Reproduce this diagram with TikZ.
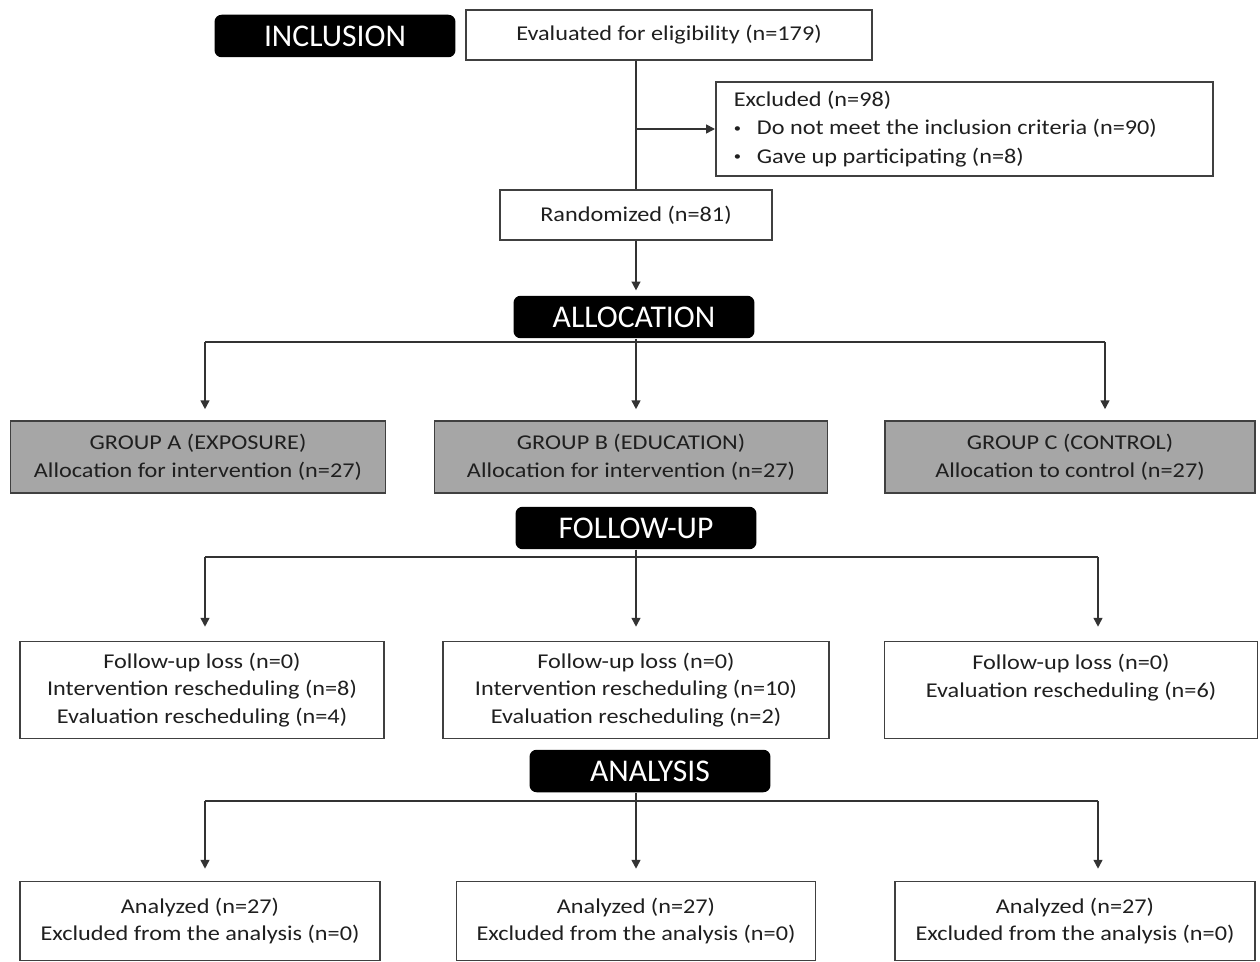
\documentclass[tikz,border=0pt]{standalone}
\usepackage{fontspec}
\setmainfont{Carlito}[FakeStretch=1.15]
\newfontfamily\phasefont{Carlito}
\usetikzlibrary{arrows.meta}

\newcommand{\smallbullet}{\raisebox{0.2ex}{\scalebox{0.6}{\textbullet}}}

\tikzset{
  phase/.style={fill=black, rounded corners=4pt, text=white, font=\phasefont\fontsize{18}{20}\selectfont, minimum width=4.82cm, minimum height=0.85cm, inner sep=0pt},
  stepbox/.style={draw=black!75, line width=0.9pt, fill=white, align=center, text=black!88, font=\fontsize{12}{15.8}\selectfont, inner sep=0pt},
  groupbox/.style={stepbox, fill=black!35},
  link/.style={draw=black!80, line width=0.9pt},
  arr/.style={link, -{Triangle[length=5pt, width=5pt]}}
}

\begin{document}
\begin{tikzpicture}[x=0.02cm, y=-0.02cm]
  \useasboundingbox (0,0) rectangle (1260,962);
  % inclusion
  \node[phase] (inclusion) at (335,36) {INCLUSION};
  \node[stepbox, minimum width=8.12cm, minimum height=1cm] (eval) at (669,35) {Evaluated for eligibility (n=179)};
  \node[stepbox, anchor=west, align=flush left, minimum height=1.88cm, text width=9.22cm, inner xsep=0.36cm, font=\fontsize{12}{16}\selectfont] (excl) at (715,129) {Excluded (n=98)\\
    \smallbullet\hspace{0.75em}Do not meet the inclusion criteria (n=90)\\
    \smallbullet\hspace{0.75em}Gave up participating (n=8)};
  \node[stepbox, minimum width=5.44cm, minimum height=1cm] (rand) at (636,215) {Randomized (n=81)};
  \coordinate (split) at (636,129);
  \draw[link] (eval.south -| split) -- (rand.north);
  \draw[arr] (split) -- (excl.west);
  % allocation
  \node[phase] (alloc) at (634,317) {ALLOCATION};
  \draw[arr, shorten >=0.1cm] (rand.south) -- (rand.south |- alloc.north);
  \node[groupbox, minimum width=7.5cm, minimum height=1.44cm] (grpA) at (198,457) {GROUP A (EXPOSURE)\\Allocation for intervention (n=27)};
  \node[groupbox, minimum width=7.86cm, minimum height=1.44cm] (grpB) at (631,457) {GROUP B (EDUCATION)\\Allocation for intervention (n=27)};
  \node[groupbox, minimum width=7.4cm, minimum height=1.44cm] (grpC) at (1070,457) {GROUP C (CONTROL)\\Allocation to control (n=27)};
  \coordinate (allocA) at (205,342);
  \coordinate (allocB) at (636,342);
  \coordinate (allocC) at (1105,342);
  \draw[link] (alloc.south -| allocB) -- (allocB);
  \draw[link] (allocA) -- (allocC);
  \draw[arr, shorten >=0.22cm] (allocA) -- (allocA |- grpA.north);
  \draw[arr, shorten >=0.22cm] (allocB) -- (allocB |- grpB.north);
  \draw[arr, shorten >=0.22cm] (allocC) -- (allocC |- grpC.north);
  % follow-up
  \node[phase] (follow) at (636,528) {FOLLOW-UP};
  \node[stepbox, minimum width=7.28cm, minimum height=1.94cm] (fupA) at (202,690) {Follow-up loss (n=0)\\Intervention rescheduling (n=8)\\Evaluation rescheduling (n=4)};
  \node[stepbox, minimum width=7.72cm, minimum height=1.94cm] (fupB) at (636,690) {Follow-up loss (n=0)\\Intervention rescheduling (n=10)\\Evaluation rescheduling (n=2)};
  \node[stepbox, minimum width=7.46cm, minimum height=1.94cm] (fupC) at (1071,690) {Follow-up loss (n=0)\\Evaluation rescheduling (n=6)\\\mbox{}};
  \coordinate (followA) at (205,557);
  \coordinate (followB) at (636,557);
  \coordinate (followC) at (1098,557);
  \draw[link] (follow.south -| followB) -- (followB);
  \draw[link] (followA) -- (followC);
  \draw[arr, shorten >=0.28cm] (followA) -- (followA |- fupA.north);
  \draw[arr, shorten >=0.28cm] (followB) -- (followB |- fupB.north);
  \draw[arr, shorten >=0.28cm] (followC) -- (followC |- fupC.north);
  % analysis
  \node[phase] (analysis) at (650,771) {ANALYSIS};
  \node[stepbox, minimum width=7.2cm, minimum height=1.58cm] (anA) at (200,921) {Analyzed (n=27)\\Excluded from the analysis (n=0)};
  \node[stepbox, minimum width=7.18cm, minimum height=1.58cm] (anB) at (636,921) {Analyzed (n=27)\\Excluded from the analysis (n=0)};
  \node[stepbox, minimum width=7.2cm, minimum height=1.58cm] (anC) at (1075,921) {Analyzed (n=27)\\Excluded from the analysis (n=0)};
  \coordinate (analysisA) at (205,801);
  \coordinate (analysisB) at (636,801);
  \coordinate (analysisC) at (1098,801);
  \draw[link] (analysis.south -| analysisB) -- (analysisB);
  \draw[link] (analysisA) -- (analysisC);
  \draw[arr, shorten >=0.24cm] (analysisA) -- (analysisA |- anA.north);
  \draw[arr, shorten >=0.24cm] (analysisB) -- (analysisB |- anB.north);
  \draw[arr, shorten >=0.24cm] (analysisC) -- (analysisC |- anC.north);
\end{tikzpicture}
\end{document}
